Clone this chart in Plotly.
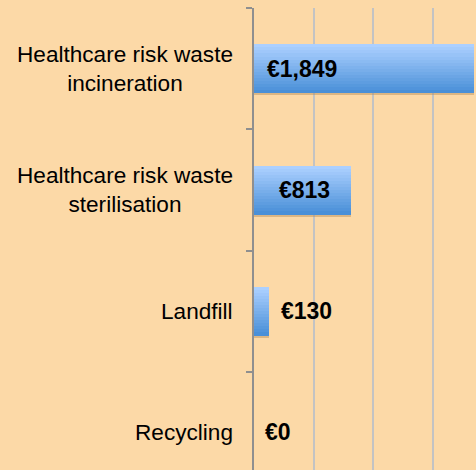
import plotly.graph_objects as go

categories = ["Healthcare risk waste<br>incineration",
              "Healthcare risk waste<br>sterilisation",
              "Landfill",
              "Recycling"]
values = [1849, 813, 130, 0]
value_labels = ["€1,849", "€813", "€130", "€0"]

BG = "#FCD9A7"
TOP = (172, 208, 255)
BOT = (74, 144, 216)
BAR_W = 0.40
N = 16

fig = go.Figure()

# soft shadow under bars
fig.add_trace(go.Bar(
    y=categories, x=values, orientation="h",
    width=BAR_W, offset=-BAR_W / 2 + 0.02,
    marker=dict(color="rgba(170,130,80,0.40)", line=dict(width=0)),
    hoverinfo="skip", showlegend=False))

# gradient slices
for i in range(N):
    t = i / (N - 1)
    c = tuple(round(TOP[k] + (BOT[k] - TOP[k]) * t) for k in range(3))
    fig.add_trace(go.Bar(
        y=categories, x=values, orientation="h",
        width=BAR_W / N + 0.004, offset=-BAR_W / 2 + i * BAR_W / N,
        marker=dict(color="rgb(%d,%d,%d)" % c, line=dict(width=0)),
        hoverinfo="skip", showlegend=False))

# value labels (placement style per bar)
label_style = [("inside_left", 11), ("center", 2), ("outside", 10), ("outside", 9)]
for cat, v, lab, (mode, sh) in zip(categories, values, value_labels, label_style):
    if mode == "inside_left":
        xx, anchor = 0, "left"
    elif mode == "center":
        xx, anchor = v / 2, "center"
    else:
        xx, anchor = v, "left"
    fig.add_annotation(x=xx, y=cat, xref="x", yref="y", text=lab,
                       xanchor=anchor, xshift=sh, showarrow=False,
                       font=dict(family="Liberation Sans, Arial", size=23,
                                 color="#000000", weight="bold"))

# category labels, centered multi-line
for cat in categories:
    fig.add_annotation(x=0, y=cat, xref="paper", yref="y", text=cat,
                       xanchor="right", xshift=-19, align="center",
                       showarrow=False,
                       font=dict(family="Liberation Sans, Arial", size=22.6,
                                 color="#000000"))

fig.update_layout(
    width=476, height=470,
    margin=dict(l=254, r=0, t=8, b=0),
    paper_bgcolor=BG, plot_bgcolor=BG,
    barmode="overlay", bargap=0,
    showlegend=False,
    xaxis=dict(range=[0, 1865], tick0=0, dtick=500, showgrid=True,
               gridcolor="#C3C3C3", gridwidth=1.6, showticklabels=False,
               zeroline=False, showline=False, ticks=""),
    yaxis=dict(type="category", categoryorder="array", categoryarray=categories,
               range=[3.31, -0.5], showgrid=False, showticklabels=False,
               showline=True, linecolor="#8F8F8F", linewidth=1.6,
               ticks="outside", tickson="boundaries", ticklen=6,
               tickcolor="#8F8F8F", tickwidth=1.6, zeroline=False),
)

fig.write_html(
    "out.html",
    config={"displayModeBar": False},
    post_script="document.body.style.margin='0';"
                "document.body.style.background='%s';" % BG,
)
